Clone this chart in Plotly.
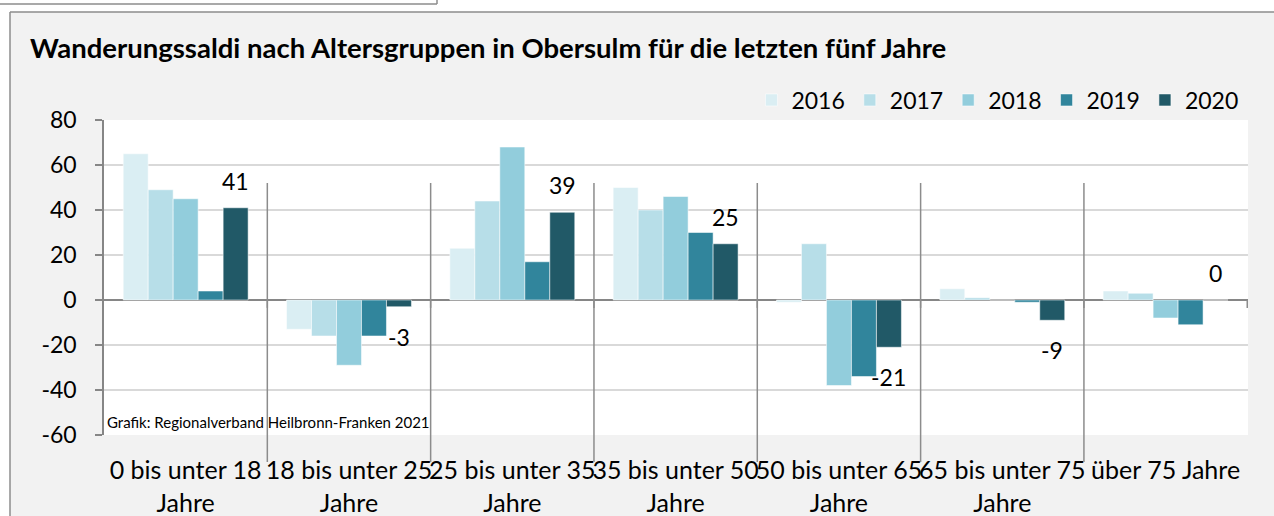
import plotly.graph_objects as go

categories = ["0 bis unter 18<br>Jahre", "18 bis unter 25<br>Jahre", "25 bis unter 35<br>Jahre",
              "35 bis unter 50<br>Jahre", "50 bis unter 65<br>Jahre", "65 bis unter 75<br>Jahre",
              "über 75 Jahre"]
years = ["2016", "2017", "2018", "2019", "2020"]
v2016 = [65, -13, 23, 50, -1, 5, 4]
v2017 = [49, -16, 44, 40, 25, 1, 3]
v2018 = [45, -29, 68, 46, -38, 0, -8]
v2019 = [4, -16, 17, 30, -34, -1, -11]
v2020 = [41, -3, 39, 25, -21, -9, 0]
series = [v2016, v2017, v2018, v2019, v2020]
colors = ["#DAEEF3", "#B7DEE8", "#92CDDC", "#31859C", "#215967"]
y_ticks = [-60, -40, -20, 0, 20, 40, 60, 80]
y_ticktext = [str(t) for t in y_ticks]

W, H = 1274, 516
ML, MR, MT, MB = 104, 26, 120, 81
PW, PH = W - ML - MR, H - MT - MB
FONT = "Lato"
BARGAP = 0.235

def px_x(px):
    return (px - ML) / PW

def px_y(py):
    return (H - MB - py) / PH

fig = go.Figure()
for name, vals, col in zip(years, series, colors):
    fig.add_trace(go.Bar(x=categories, y=vals, name=name, marker_color=col,
                         marker_line=dict(width=0.75, color="rgba(255,255,255,0.7)")))

# data labels for the last series
n = len(categories)
bar_px = PW / n * (1 - BARGAP) / len(series)
off = (len(series) - 1 - (len(series) - 1) / 2) * bar_px
for c, v in zip(categories, v2020):
    fig.add_annotation(x=c, y=v, text=str(v), showarrow=False, xshift=off,
                       yshift=27 if v >= 0 else -30, yanchor="middle",
                       font=dict(family=FONT, size=23, color="black"))

shapes = []
# category separator lines and small ticks on the zero line
for k in range(n):
    if k < n - 1:
        shapes.append(dict(type="line", xref="x", yref="paper", x0=k + 0.5, x1=k + 0.5,
                           y0=px_y(462), y1=px_y(183), line=dict(color="#8c8c8c", width=1.5)))
    shapes.append(dict(type="line", xref="x", yref="y", x0=k + 0.5, x1=k + 0.5,
                       y0=0, y1=-3.5, line=dict(color="#8c8c8c", width=1.5)))

# outer frame
shapes += [
    dict(type="rect", xref="paper", yref="paper", x0=px_x(-20), x1=px_x(W + 20),
         y0=px_y(12), y1=px_y(-20), fillcolor="white", line=dict(width=0), layer="above"),
    dict(type="rect", xref="paper", yref="paper", x0=px_x(-20), x1=px_x(10),
         y0=px_y(H + 20), y1=px_y(-20), fillcolor="white", line=dict(width=0), layer="above"),
    dict(type="line", xref="paper", yref="paper", x0=px_x(10), x1=px_x(W + 5),
         y0=px_y(12), y1=px_y(12), line=dict(color="#8c8c8c", width=1.5), layer="above"),
    dict(type="line", xref="paper", yref="paper", x0=px_x(10), x1=px_x(10),
         y0=px_y(12), y1=px_y(H + 5), line=dict(color="#8c8c8c", width=1.5), layer="above"),
    dict(type="line", xref="paper", yref="paper", x0=px_x(-5), x1=px_x(437),
         y0=px_y(4), y1=px_y(4), line=dict(color="#8c8c8c", width=1.5), layer="above"),
    dict(type="line", xref="paper", yref="paper", x0=px_x(437), x1=px_x(437),
         y0=px_y(4), y1=px_y(-5), line=dict(color="#8c8c8c", width=1.5), layer="above"),
]

fig.add_annotation(xref="paper", yref="paper", x=px_x(105), y=px_y(422), xanchor="left",
                   yanchor="middle", showarrow=False,
                   text="Grafik: Regionalverband Heilbronn-Franken 2021",
                   font=dict(family=FONT, size=15, color="black"))

fig.update_layout(
    width=W, height=H, autosize=False,
    margin=dict(l=ML, r=MR, t=MT, b=MB, pad=0, autoexpand=False),
    paper_bgcolor="#f2f2f2", plot_bgcolor="white",
    barmode="group", bargap=BARGAP, bargroupgap=0,
    font=dict(family=FONT, color="black"),
    title=dict(text="<b>Wanderungssaldi nach Altersgruppen in Obersulm für die letzten fünf Jahre</b>",
               xref="container", yref="container", x=30 / W, xanchor="left",
               y=1 - 48 / H, yanchor="middle", automargin=False,
               font=dict(family=FONT, size=27.5, color="black")),
    legend=dict(orientation="h", x=0.996, xanchor="right", y=px_y(100), yanchor="middle",
                font=dict(family=FONT, size=23, color="black"), bgcolor="rgba(0,0,0,0)",
                traceorder="normal"),
    shapes=shapes,
    showlegend=True,
)
fig.update_yaxes(range=[-60, 80], tickvals=y_ticks, ticktext=y_ticktext, showgrid=True,
                 gridcolor="#d9d9d9", gridwidth=1.5,
                 showline=True, linecolor="#868686", linewidth=1.5, ticks="outside", ticklen=7,
                 tickcolor="#868686", tickwidth=1.5, zeroline=True, zerolinecolor="#868686",
                 zerolinewidth=2, tickfont=dict(family=FONT, size=23, color="black"),
                 ticklabelstandoff=14, automargin=False)
fig.update_xaxes(showgrid=False, showline=False, ticks="", tickangle=0, automargin=False,
                 tickfont=dict(family=FONT, size=25, color="black"), ticklabelstandoff=18)

fig.write_html("out.html", config={"displayModeBar": False},
               post_script="document.body.style.margin='0';document.body.style.overflow='hidden';")
